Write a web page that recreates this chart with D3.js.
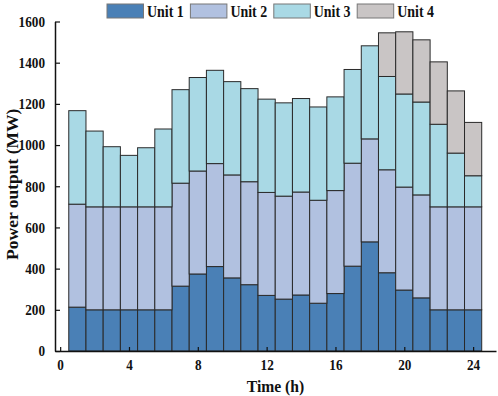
<!DOCTYPE html>
<html>
<head>
<meta charset="utf-8">
<script src="https://cdn.jsdelivr.net/npm/d3@7"></script>
<style>
  body { margin: 0; background: #fff; }
  svg text { font-family: "Liberation Serif", "Times New Roman", serif; font-weight: bold; fill: #111; }
</style>
</head>
<body>
<div id="chart"></div>
<script>
const width = 498;
const height = 396;

// hourly output of each unit (MW)
const hours = d3.range(1, 25);
const unit1 = [213, 200, 200, 200, 200, 200, 315, 374, 410, 355, 322, 270, 252, 272, 232, 279, 412, 530, 380, 296, 258, 200, 200, 200];
const unit2 = [500, 500, 500, 500, 500, 500, 500, 500, 500, 500, 500, 500, 500, 500, 500, 500, 500, 500, 500, 500, 500, 500, 500, 500];
const unit3 = [454, 368, 292, 250, 287, 378, 454, 454, 453, 453, 452, 453, 453, 454, 453, 455, 455, 452, 453, 452, 451, 401, 261, 151];
const unit4 = [0, 0, 0, 0, 0, 0, 0, 0, 0, 0, 0, 0, 0, 0, 0, 0, 0, 0, 212, 302, 302, 303, 302, 259];

const units = ["Unit 1", "Unit 2", "Unit 3", "Unit 4"];
const colors = ["#4a80b6", "#b1c1e0", "#a9d9e5", "#c9c5c5"];
const xTicks = [0, 4, 8, 12, 16, 20, 24];
const yTicks = [0, 200, 400, 600, 800, 1000, 1200, 1400, 1600];

const rows = hours.map((h, i) => ({
    hour: h,
    "Unit 1": unit1[i],
    "Unit 2": unit2[i],
    "Unit 3": unit3[i],
    "Unit 4": unit4[i]
}));

const svg = d3.select("#chart").append("svg")
    .attr("width", width)
    .attr("height", height);

const x = d3.scaleLinear().domain([-0.3, 25.33]).range([55, 496]);
const y = d3.scaleLinear().domain([0, 1600]).range([351, 21.5]);
const color = d3.scaleOrdinal().domain(units).range(colors);

const series = d3.stack().keys(units)(rows);

// bars
svg.append("g").selectAll("g")
    .data(series)
    .join("g")
    .attr("fill", d => color(d.key))
    .selectAll("rect")
    .data(d => d.filter(s => s[1] - s[0] > 0))
    .join("rect")
    .attr("x", d => x(d.data.hour - 0.5))
    .attr("width", d => x(d.data.hour + 0.5) - x(d.data.hour - 0.5))
    .attr("y", d => y(d[1]))
    .attr("height", d => y(d[0]) - y(d[1]))
    .attr("stroke", "#2a2a2a")
    .attr("stroke-width", 1);

// axes
const xAxis = svg.append("g")
    .attr("transform", `translate(0,${y(0)})`)
    .call(d3.axisBottom(x).tickValues(xTicks).tickFormat(d3.format("d"))
        .tickSizeInner(-4).tickSizeOuter(0).tickPadding(8));

const yAxis = svg.append("g")
    .attr("transform", `translate(${x.range()[0]},0)`)
    .call(d3.axisLeft(y).tickValues(yTicks).tickFormat(d3.format("d"))
        .tickSizeInner(-5).tickSizeOuter(0).tickPadding(10));

[xAxis, yAxis].forEach(a => {
    a.select(".domain").attr("stroke", "#111").attr("stroke-width", 1.5);
    a.selectAll(".tick line").attr("stroke", "#111").attr("stroke-width", 1.2);
    a.selectAll("text")
        .attr("font-size", 15)
        .attr("font-family", "Liberation Serif, serif")
        .attr("font-weight", "bold")
        .attr("fill", "#111");
});

// titles
svg.append("text")
    .attr("x", (x.range()[0] + x.range()[1]) / 2)
    .attr("y", 392)
    .attr("text-anchor", "middle")
    .attr("font-size", 17)
    .attr("class", "squeeze")
    .attr("data-k", 0.92)
    .text("Time (h)");

svg.append("text")
    .attr("transform", `translate(17.5,${(y(0) + y(1600)) / 2 - 2}) rotate(-90)`)
    .attr("text-anchor", "middle")
    .attr("font-size", 17.5)
    .text("Power output (MW)");

// legend
const legend = svg.append("g").selectAll("g")
    .data(units)
    .join("g")
    .attr("transform", (d, i) => `translate(${107 + i * 83.4},4)`);

legend.append("rect")
    .attr("width", 36.5)
    .attr("height", 14)
    .attr("fill", d => color(d))
    .attr("stroke", "#777")
    .attr("stroke-width", 1);

legend.append("text")
    .attr("x", 40)
    .attr("y", 12.8)
    .attr("font-size", 17)
    .attr("class", "squeeze")
    .attr("data-k", 0.82)
    .text(d => d);

// the original figure is squeezed horizontally, narrow the horizontal labels a bit
svg.selectAll(".tick text").attr("class", "squeeze").attr("data-k", 0.88);
svg.selectAll("text.squeeze").each(function() {
    const k = +this.getAttribute("data-k");
    const len = this.getComputedTextLength();
    d3.select(this).attr("textLength", len * k).attr("lengthAdjust", "spacingAndGlyphs");
});
</script>
</body>
</html>
